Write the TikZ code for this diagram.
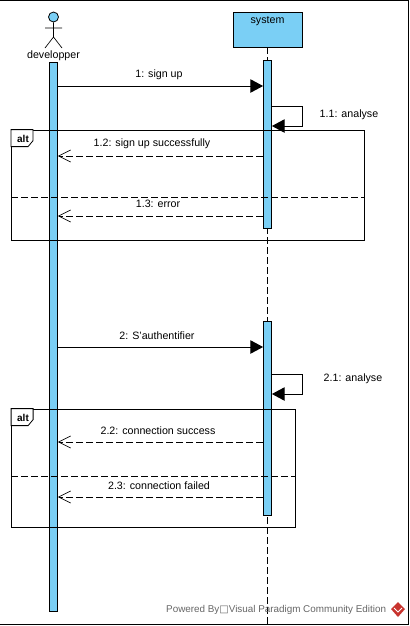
\documentclass[tikz,border=0pt]{standalone}
\usepackage{fontspec}
\setmainfont{Liberation Sans}
\newfontfamily\boxfont{DejaVu Sans}
\usetikzlibrary{arrows.meta,positioning,calc}
\definecolor{skyfill}{HTML}{7ACFF5}
\definecolor{logored}{HTML}{C8332E}
\definecolor{markgray}{HTML}{666666}
\tikzset{
  msgtext/.style={font=\fontsize{8}{9}\selectfont,inner sep=1pt},
  marktext/.style={font=\fontsize{7.4}{9}\selectfont,inner sep=0.5pt,text=markgray},
  alttext/.style={font=\fontsize{7.5}{9}\selectfont\bfseries,inner sep=1pt},
  activation/.style={draw=black,fill=skyfill,line width=0.6pt,minimum width=6pt,inner sep=0pt},
  callline/.style={draw=black,line width=0.7pt,-{Triangle[length=9.5pt,width=10pt]}},
  replyline/.style={draw=black,line width=0.6pt,dash pattern=on 5pt off 2.5pt,-{Straight Barb[length=9pt,width=9pt,line width=0.5pt]}},
  framebox/.style={draw=black,line width=0.6pt},
}
\begin{document}
\begin{tikzpicture}[x=0.75pt,y=-0.75pt]
  \useasboundingbox (0,0) rectangle (410,626);
  \draw[line width=1pt] (0,0.5)--(408.5,0.5)--(408.5,624.5)--(0,624.5);
  % lifelines
  \node[draw=black,fill=skyfill,line width=0.7pt,minimum width=51.75pt,minimum height=25.9pt,inner sep=0pt] (system) at (267.5,29.75) {};
  \node[msgtext] (systemname) at (267.5,21) {system};
  \coordinate (systemend) at (267.5,624);
  \draw[line width=0.6pt,dash pattern=on 5pt off 2.5pt] (system.south)--(systemend);
  % actor
  \node[circle,draw=black,fill=skyfill,line width=0.6pt,minimum size=7.5pt,inner sep=0pt] (head) at (53.5,17) {};
  \coordinate (hip) at (53.5,37);
  \coordinate (armleft) at (45,28);
  \coordinate (armright) at (62,28);
  \coordinate (footleft) at (45,48);
  \coordinate (footright) at (62,48);
  \draw[line width=0.5pt] (head.south)--(hip) (armleft)--(armright) (footleft)--(hip)--(footright);
  \node[msgtext] (developper) at (53.5,56) {developper};
  % activations
  \node[activation,minimum height=411.75pt] (devbar) at (53.5,336.5) {};
  \node[activation,minimum height=126pt] (sysbarone) at (267.5,144) {};
  \node[activation,minimum height=145.5pt] (sysbartwo) at (267.5,418) {};
  % first exchange
  \coordinate (devone) at (devbar.east |- 0,86);
  \coordinate (sysone) at (sysbarone.west |- 0,86);
  \draw[callline] (devone)--(sysone);
  \node[msgtext] (signup) at (159,75) {1: sign up};
  \coordinate (selfonea) at (sysbarone.east |- 0,106);
  \coordinate (selfoneb) at (sysbarone.east |- 0,126);
  \draw[callline] (selfonea)-|(302,126)--(selfoneb);
  \node[msgtext] (analyseone) at (349,115) {1.1: analyse};
  \node[framebox,minimum width=264.4pt,minimum height=82.5pt,inner sep=0pt] (altone) at (187.75,185) {};
  \draw[framebox,fill=white] (altone.north west)--++(22,0)--++(0,11)--++(-5,6)--++(-17,0)--cycle;
  \node[alttext] (altonetag) at (23,139) {alt};
  \coordinate (dividerleft) at (altone.west |- 0,197);
  \coordinate (dividerright) at (altone.east |- 0,197);
  \draw[framebox,dash pattern=on 5pt off 2.5pt] (dividerleft)--(dividerright);
  \coordinate (sysreplya) at (sysbarone.west |- 0,156);
  \coordinate (devreplya) at (devbar.east |- 0,156);
  \draw[replyline] (sysreplya)--(devreplya);
  \node[msgtext] (success) at (152,144) {1.2: sign up successfully};
  \coordinate (sysreplyb) at (sysbarone.west |- 0,216);
  \coordinate (devreplyb) at (devbar.east |- 0,216);
  \draw[replyline] (sysreplyb)--(devreplyb);
  \node[msgtext,fill=white,minimum width=48pt,inner ysep=2pt] (error) at (158,204) {1.3: error};
  % second exchange
  \coordinate (devtwo) at (devbar.east |- 0,347);
  \coordinate (systwo) at (sysbartwo.west |- 0,347);
  \draw[callline] (devtwo)--(systwo);
  \node[msgtext] (authent) at (157,336) {2: S'authentifier};
  \coordinate (selftwoa) at (sysbartwo.east |- 0,374);
  \coordinate (selftwob) at (sysbartwo.east |- 0,394);
  \draw[callline] (selftwoa)-|(302,394)--(selftwob);
  \node[msgtext] (analysetwo) at (353,379) {2.1: analyse};
  \node[framebox,minimum width=212.6pt,minimum height=88.5pt,inner sep=0pt] (alttwo) at (153.25,468) {};
  \draw[framebox,fill=white] (alttwo.north west)--++(22,0)--++(0,11)--++(-5,6)--++(-17,0)--cycle;
  \node[alttext] (alttwotag) at (23,418) {alt};
  \coordinate (splitleft) at (alttwo.west |- 0,476);
  \coordinate (splitright) at (alttwo.east |- 0,476);
  \draw[framebox,dash pattern=on 5pt off 2.5pt] (splitleft)--(splitright);
  \coordinate (sysreplyc) at (sysbartwo.west |- 0,442);
  \coordinate (devreplyc) at (devbar.east |- 0,442);
  \draw[replyline] (sysreplyc)--(devreplyc);
  \node[msgtext] (connok) at (158,431) {2.2: connection success};
  \coordinate (sysreplyd) at (sysbartwo.west |- 0,497);
  \coordinate (devreplyd) at (devbar.east |- 0,497);
  \draw[replyline] (sysreplyd)--(devreplyd);
  \node[msgtext] (connfail) at (159,486) {2.3: connection failed};
  % watermark
  \node[marktext,anchor=east] (powered) at (387,610) {Powered By{\boxfont\fontsize{7.5}{9}\selectfont □}Visual Paradigm Community Edition};
  \fill[logored] (398,602)--(405,609)--(398,617)--(391,609)--cycle;
  \draw[white,line width=0.6pt] (394,608)--(398,612)--(402,608);
\end{tikzpicture}
\end{document}
